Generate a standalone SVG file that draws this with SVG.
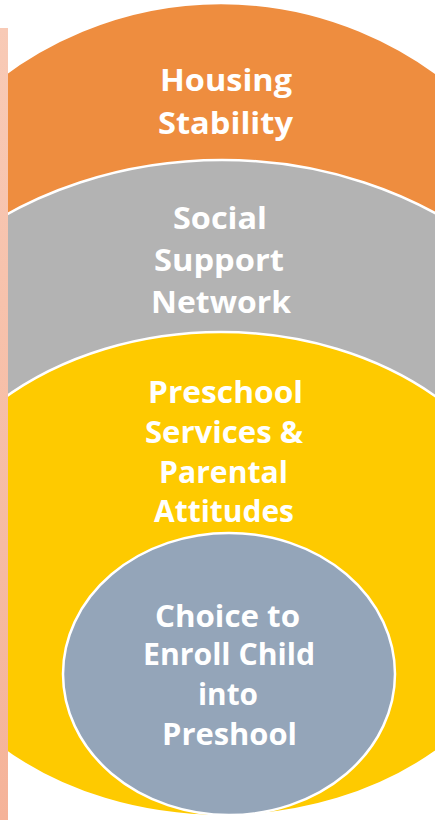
<svg xmlns="http://www.w3.org/2000/svg" width="435" height="820" viewBox="0 0 435 820">
<defs>
<linearGradient id="bar" x1="0" y1="0" x2="0" y2="1">
<stop offset="0" stop-color="#F8CAB6"/>
<stop offset="1" stop-color="#F5B399"/>
</linearGradient>
</defs>
<style>
.ring{stroke:#FFFFFF;stroke-width:2.5}
.lbl{font-family:"Open Sans","Liberation Sans",sans-serif;font-weight:700;font-size:30.5px;fill:#FFFFFF;text-anchor:middle}
</style>
<rect width="435" height="820" fill="#FFFFFF"/>
<g id="housing">
<ellipse class="ring" cx="221" cy="396.5" rx="377" ry="393.5" fill="#EE8D3F"/>
<text class="lbl" x="226" y="91" textLength="132" lengthAdjust="spacingAndGlyphs">Housing</text>
<text class="lbl" x="225.5" y="134" textLength="135" lengthAdjust="spacingAndGlyphs">Stability</text>
</g>
<g id="social">
<ellipse class="ring" cx="222" cy="480" rx="386" ry="320" fill="#B3B3B3"/>
<text class="lbl" x="220" y="229" textLength="94" lengthAdjust="spacingAndGlyphs">Social</text>
<text class="lbl" x="219" y="271" textLength="130" lengthAdjust="spacingAndGlyphs">Support</text>
<text class="lbl" x="221" y="313" textLength="140" lengthAdjust="spacingAndGlyphs">Network</text>
</g>
<g id="preschool">
<ellipse class="ring" cx="221" cy="574" rx="316" ry="242" fill="#FECA00"/>
<text class="lbl" x="225.5" y="403" textLength="155" lengthAdjust="spacingAndGlyphs">Preschool</text>
<text class="lbl" x="224" y="443" textLength="158" lengthAdjust="spacingAndGlyphs">Services &amp;</text>
<text class="lbl" x="223.5" y="483" textLength="129" lengthAdjust="spacingAndGlyphs">Parental</text>
<text class="lbl" x="224" y="522" textLength="140" lengthAdjust="spacingAndGlyphs">Attitudes</text>
</g>
<g id="choice">
<ellipse class="ring" cx="229" cy="674" rx="166" ry="141" fill="#94A5B9"/>
<text class="lbl" x="227.5" y="627" textLength="145" lengthAdjust="spacingAndGlyphs">Choice to</text>
<text class="lbl" x="229" y="665" textLength="172" lengthAdjust="spacingAndGlyphs">Enroll Child</text>
<text class="lbl" x="228" y="705" textLength="60" lengthAdjust="spacingAndGlyphs">into</text>
<text class="lbl" x="229.5" y="745" textLength="135" lengthAdjust="spacingAndGlyphs">Preshool</text>
</g>
<rect id="sidebar" x="0" y="28" width="8" height="792" fill="url(#bar)"/>
</svg>
